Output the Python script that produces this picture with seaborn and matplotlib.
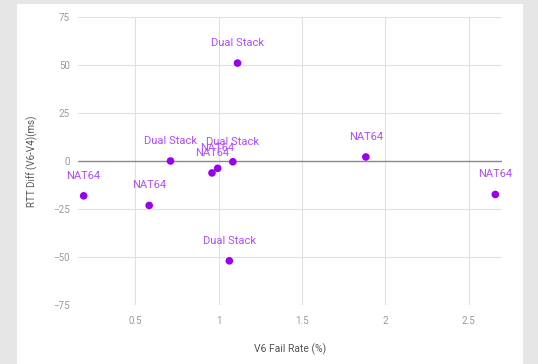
import matplotlib
matplotlib.use("Agg")
import matplotlib.pyplot as plt
import matplotlib.patches as mpatches
import seaborn as sns
import pandas as pd

# Data
fail_rate = [1.113, 0.711, 1.085, 1.883, 0.19, 0.583, 2.66, 1.064, 0.96, 0.994]
rtt_diff = [50.9, 0.0, -0.4, 2.1, -18.1, -23.1, -17.4, -51.9, -6.2, -3.8]
labels = ["Dual Stack", "Dual Stack", "Dual Stack", "NAT64", "NAT64", "NAT64",
          "NAT64", "Dual Stack", "NAT64", "NAT64"]
x_ticks = [0.5, 1, 1.5, 2, 2.5]
x_tick_labels = ["0.5", "1", "1.5", "2", "2.5"]
y_ticks = [-75, -50, -25, 0, 25, 50, 75]

df = pd.DataFrame({"fail": fail_rate, "rtt": rtt_diff, "label": labels})

sns.set_theme(style="white")
plt.rcParams["font.family"] = ["Roboto", "DejaVu Sans"]

W, H = 538, 364
fig = plt.figure(figsize=(W / 100, H / 100), dpi=100)
fig.patch.set_facecolor("#e6e6e6")
card = mpatches.Rectangle((17 / W, 0), (523 - 17) / W, (364 - 4) / H,
                          transform=fig.transFigure, facecolor="white",
                          edgecolor="none", zorder=-10)
fig.add_artist(card)

ax = fig.add_axes([78 / W, 1 - 305.3 / H, (502 - 78) / W, (305.3 - 16.7) / H])
ax.set_facecolor("none")
ax.set_zorder(1)

point_color = "#9900f0"
label_color = "#b04dff"

sns.scatterplot(data=df, x="fail", y="rtt", ax=ax, color=point_color,
                s=30, edgecolor="none", zorder=4, legend=False)

for i, row in df.iterrows():
    ax.annotate(row["label"], xy=(row["fail"], row["rtt"]),
                xytext=(0, 14.5), textcoords="offset points",
                ha="center", va="center", fontsize=8, color=label_color,
                arrowprops=dict(arrowstyle="-", color="#eadcff", lw=0.6,
                                shrinkA=4, shrinkB=4),
                zorder=5)

ax.set_xlim(0.156, 2.70)
ax.set_ylim(-75, 75)
ax.set_xticks(x_ticks)
ax.set_xticklabels(x_tick_labels)
ax.set_yticks(y_ticks)
ax.grid(True, color="#e0e0e0", lw=0.8)
ax.set_axisbelow(True)
ax.axhline(0, color="#8a8a8a", lw=1.0, zorder=2)
for s in ax.spines.values():
    s.set_visible(False)
ax.tick_params(axis="both", length=0, labelsize=7, colors="#9a9a9a")
ax.tick_params(axis="x", pad=8)
ax.tick_params(axis="y", pad=6)
ax.set_xlabel("V6 Fail Rate (%)", fontsize=7.5, color="#555555", labelpad=12)
ax.set_ylabel("RTT Diff (V6-V4)(ms)", fontsize=7, color="#555555", labelpad=11)

fig.savefig("out.png", dpi=100, facecolor=fig.get_facecolor())
